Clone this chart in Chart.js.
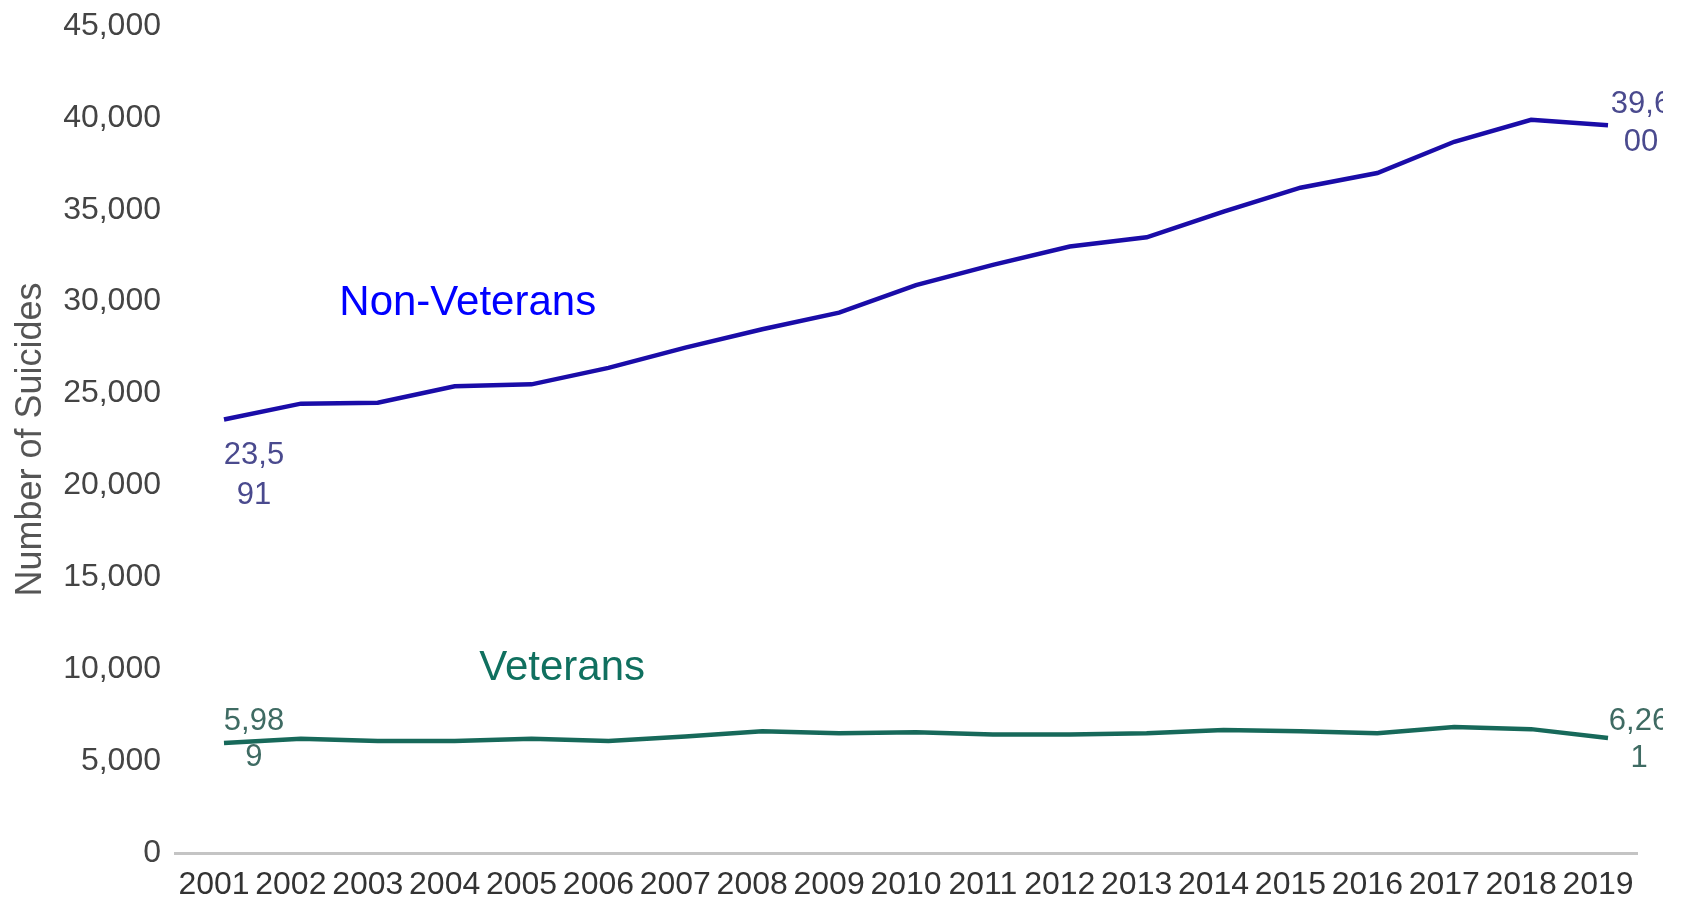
<!DOCTYPE html>
<html>
<head>
<meta charset="utf-8">
<title>Suicides, Veterans and Non-Veterans, 2001–2019</title>
<script src="https://cdn.jsdelivr.net/npm/chart.js@4/dist/chart.umd.min.js"></script>
<style>
  html, body { margin: 0; padding: 0; background: #fff; }
  canvas { display: block; }
</style>
</head>
<body>
<canvas id="chart" width="1681" height="900"></canvas>
<script>
const years = [2001, 2002, 2003, 2004, 2005, 2006, 2007, 2008, 2009, 2010,
               2011, 2012, 2013, 2014, 2015, 2016, 2017, 2018, 2019];
const nonVeterans = [23591, 24450, 24500, 25400, 25500, 26400, 27500, 28500, 29400, 30900,
                     32000, 33000, 33500, 34900, 36200, 37000, 38700, 39900, 39600];
const veterans = [5989, 6220, 6100, 6100, 6220, 6100, 6340, 6630, 6510, 6570,
                  6450, 6450, 6510, 6690, 6630, 6510, 6860, 6740, 6261];
const yTicks = [0, 5000, 10000, 15000, 20000, 25000, 30000, 35000, 40000, 45000];

const FONT = '"Liberation Sans", Arial, sans-serif';

// value labels on the first and last point of each line, wrapped after 4 chars
const endLabels = {
  id: 'endLabels',
  afterDatasetsDraw(chart) {
    const ctx = chart.ctx;
    ctx.save();
    ctx.beginPath();
    ctx.rect(0, 0, 1663, chart.height);
    ctx.clip();
    ctx.font = '31px ' + FONT;
    ctx.textAlign = 'center';
    ctx.textBaseline = 'alphabetic';
    chart.data.datasets.forEach((ds, i) => {
      const meta = chart.getDatasetMeta(i);
      const spots = ds.endLabelSpots;
      [0, ds.data.length - 1].forEach((idx, k) => {
        const pt = meta.data[idx];
        const text = ds.data[idx].y.toLocaleString('en-US');
        const lines = [text.slice(0, 4), text.slice(4)];
        ctx.fillStyle = ds.labelColor;
        lines.forEach((ln, j) => {
          ctx.fillText(ln, pt.x + spots[k].dx, pt.y + spots[k].dy[j]);
        });
      });
    });
    ctx.restore();
  }
};

// series names written inside the plot
const seriesNames = {
  id: 'seriesNames',
  afterDraw(chart, args, opts) {
    const ctx = chart.ctx;
    const xs = chart.scales.x, ys = chart.scales.y;
    ctx.save();
    ctx.font = '42px ' + FONT;
    ctx.textAlign = 'left';
    ctx.textBaseline = 'alphabetic';
    opts.items.forEach(it => {
      ctx.fillStyle = it.color;
      ctx.fillText(it.text, xs.getPixelForValue(it.x), ys.getPixelForValue(it.y));
    });
    ctx.restore();
  }
};

new Chart(document.getElementById('chart'), {
  type: 'line',
  data: {
    datasets: [
      {
        label: 'Non-Veterans',
        data: years.map((y, i) => ({ x: y, y: nonVeterans[i] })),
        borderColor: '#1a0ca8',
        labelColor: '#4a4a8e',
        endLabelSpots: [{ dx: 30, dy: [45, 85] }, { dx: 33, dy: [-12, 26] }]
      },
      {
        label: 'Veterans',
        data: years.map((y, i) => ({ x: y, y: veterans[i] })),
        borderColor: '#17695a',
        labelColor: '#3f6b63',
        endLabelSpots: [{ dx: 30, dy: [-13, 23] }, { dx: 31, dy: [-8, 29] }]
      }
    ]
  },
  options: {
    responsive: false,
    animation: false,
    devicePixelRatio: 1,
    layout: { padding: { top: 26, right: 44, left: 0, bottom: 0 } },
    elements: {
      line: { borderWidth: 4.5, tension: 0, fill: false, borderCapStyle: 'butt' },
      point: { radius: 0, hoverRadius: 0 }
    },
    plugins: {
      legend: { display: false },
      tooltip: { enabled: false },
      seriesNames: {
        items: [
          { text: 'Non-Veterans', x: 2002.5, y: 29270, color: '#0000ff' },
          { text: 'Veterans', x: 2004.32, y: 9430, color: '#10705f' }
        ]
      }
    },
    scales: {
      x: {
        type: 'linear',
        min: 2000.363,
        max: 2019.377,
        afterBuildTicks: s => { s.ticks = years.map(v => ({ value: v })); },
        afterFit: s => { s.height = 47; s.paddingLeft = 0; s.paddingRight = 0; },
        grid: { display: false, drawTicks: false },
        border: { display: true, color: '#c4c4c4', width: 3 },
        ticks: {
          autoSkip: false,
          maxRotation: 0,
          padding: 13,
          labelOffset: -10,
          color: '#333',
          font: { family: FONT, size: 32 },
          callback: v => String(v)
        }
      },
      y: {
        min: 0,
        max: 45000,
        afterBuildTicks: s => { s.ticks = yTicks.map(v => ({ value: v })); },
        afterFit: s => { s.width = 175; s.paddingTop = 0; s.paddingBottom = 0; },
        grid: { display: false, drawTicks: false },
        border: { display: false },
        ticks: {
          padding: 14,
          color: '#444',
          font: { family: FONT, size: 32 },
          callback: v => v.toLocaleString('en-US')
        },
        title: {
          display: true,
          text: 'Number of Suicides',
          color: '#555',
          font: { family: FONT, size: 36 },
          padding: { top: 9, bottom: 0 }
        }
      }
    }
  },
  plugins: [endLabels, seriesNames]
});
</script>
</body>
</html>
